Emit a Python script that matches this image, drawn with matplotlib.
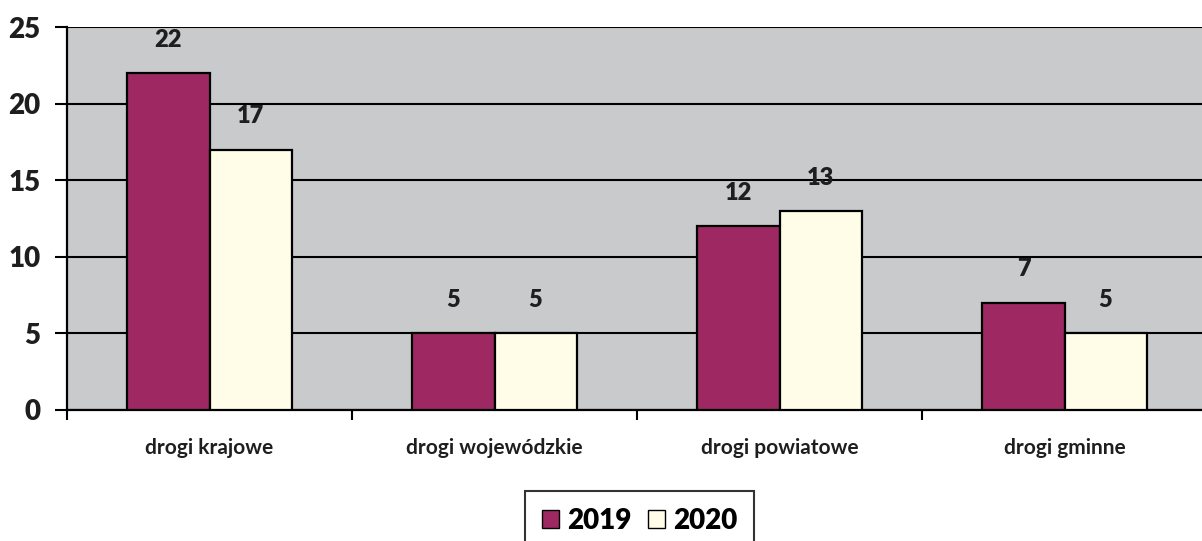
import matplotlib
matplotlib.use("Agg")
import matplotlib.pyplot as plt
import numpy as np

categories = ["drogi krajowe", "drogi wojewódzkie", "drogi powiatowe", "drogi gminne"]
series_names = ["2019", "2020"]
values_2019 = [22, 5, 12, 7]
values_2020 = [17, 5, 13, 5]
yticks = [0, 5, 10, 15, 20, 25]

plt.rcParams['font.family'] = ['Lato', 'DejaVu Sans']

fig = plt.figure(figsize=(12.02, 5.41), dpi=100)
ax = fig.add_axes([67/1202, 1-410/541, 1140/1202, 383/541])
ax.set_facecolor('#c9cacc')

x = np.arange(len(categories))
w = 0.288
c19 = '#9e2962'
c20 = '#fffde8'
b1 = ax.bar(x - w/2, values_2019, w, color=c19, edgecolor='black', linewidth=1.6, zorder=3, label=series_names[0])
b2 = ax.bar(x + w/2, values_2020, w, color=c20, edgecolor='black', linewidth=1.6, zorder=3, label=series_names[1])

for bars, vals in ((b1, values_2019), (b2, values_2020)):
    for r, v in zip(bars, vals):
        ax.annotate(str(v), (r.get_x() + r.get_width()/2, v), xytext=(0, 24),
                    textcoords='offset points', ha='center', va='center',
                    fontsize=17, fontweight='heavy', color='#1e1e1e')

ax.set_xlim(-0.5, 3.5)
ax.set_ylim(0, 25)
ax.set_yticks(yticks)
ax.set_yticklabels([str(t) for t in yticks], fontsize=20, fontweight='heavy', color='#1e1e1e')
ax.yaxis.grid(True, color='black', linewidth=1.5, zorder=1)
ax.set_axisbelow(True)

ax.set_xticks(x)
ax.set_xticklabels(categories, fontsize=15, fontweight='bold', color='#1e1e1e')
ax.tick_params(axis='x', which='major', length=0, pad=20)
ax.set_xticks(np.arange(-0.5, 3.6, 1.0), minor=True)
ax.tick_params(axis='x', which='minor', length=7, width=1.5, color='black')
ax.tick_params(axis='y', length=9, width=1.5, pad=10, color='black')

for s in ['top', 'right']:
    ax.spines[s].set_visible(False)
ax.spines['left'].set_linewidth(1.6)
ax.spines['bottom'].set_linewidth(1.6)

leg = fig.legend(handles=[b1, b2], labels=series_names, loc='upper center',
                 bbox_to_anchor=(639.5/1202, 1-491/541), ncol=2, frameon=True,
                 fancybox=False, edgecolor='black', handlelength=0.6, handleheight=0.6,
                 handletextpad=0.3, columnspacing=0.6, borderpad=0.6, borderaxespad=0,
                 prop={'family': ['Lato', 'DejaVu Sans'], 'weight': 'heavy', 'size': 20})
leg.get_frame().set_linewidth(1.5)
for h in leg.legend_handles:
    h.set_linewidth(1.0)

fig.savefig('out.png', dpi=100)
